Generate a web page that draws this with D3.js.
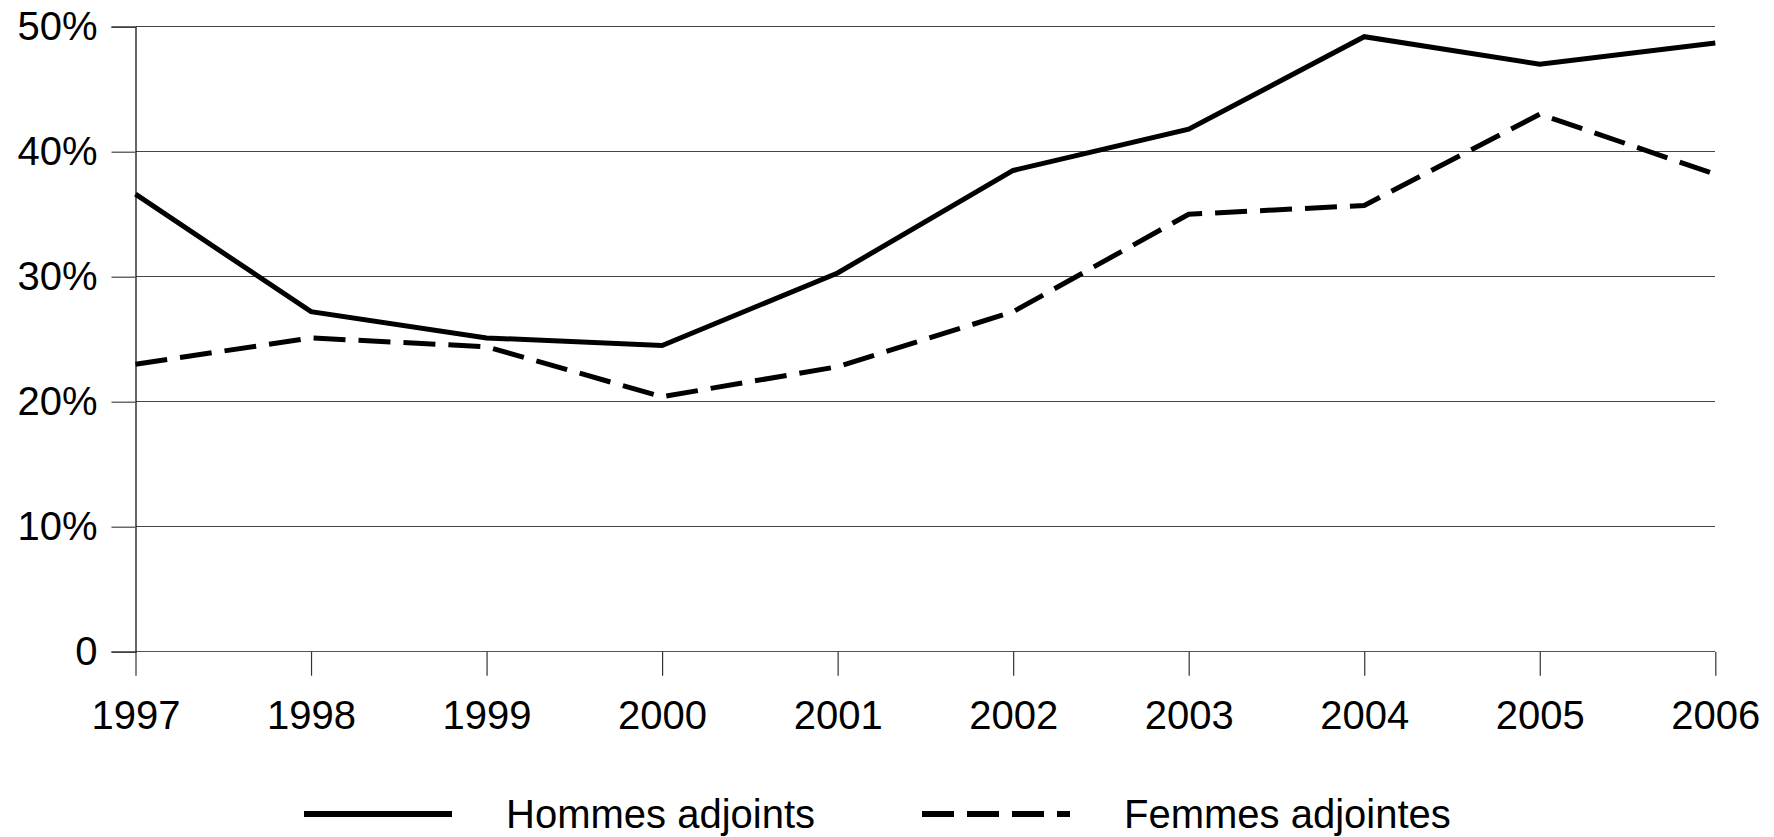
<!DOCTYPE html>
<html>
<head>
<meta charset="utf-8">
<script src="https://cdn.jsdelivr.net/npm/d3@7"></script>
<style>
  body { margin: 0; background: #fff; }
  text { font-family: "Liberation Sans", Arial, sans-serif; fill: #000; }
</style>
</head>
<body>
<div id="wrapper"></div>
<script>
// data
const years = [1997, 1998, 1999, 2000, 2001, 2002, 2003, 2004, 2005, 2006];
const hommes = [36.6, 27.2, 25.1, 24.5, 30.3, 38.5, 41.8, 49.2, 47.0, 48.7];
const femmes = [23.0, 25.1, 24.4, 20.4, 22.8, 27.2, 35.0, 35.7, 43.0, 38.2];
const yTicks = [0, 10, 20, 30, 40, 50];
const seriesNames = ["Hommes adjoints", "Femmes adjointes"];

const drawLineChart = () => {
    let dimensions = {
        width: 1774,
        height: 837,
        margin: { top: 26.7, right: 58.7, bottom: 185.3, left: 135.5 }
    };
    dimensions.boundedWidth = dimensions.width - dimensions.margin.left - dimensions.margin.right;
    dimensions.boundedHeight = dimensions.height - dimensions.margin.top - dimensions.margin.bottom;

    const svg = d3.select("#wrapper")
        .append("svg")
        .attr("width", dimensions.width)
        .attr("height", dimensions.height);

    const bounds = svg.append("g")
        .attr("transform", `translate(${dimensions.margin.left},${dimensions.margin.top})`);

    // scales
    const xScale = d3.scaleLinear()
        .domain(d3.extent(years))
        .range([0, dimensions.boundedWidth]);

    const yScale = d3.scaleLinear()
        .domain([0, 50])
        .range([dimensions.boundedHeight, 0]);

    // gridlines
    bounds.append("g")
        .selectAll("line")
        .data(yTicks)
        .enter()
        .append("line")
        .attr("x1", 0)
        .attr("x2", dimensions.boundedWidth)
        .attr("y1", d => yScale(d))
        .attr("y2", d => yScale(d))
        .attr("stroke", d => d === 0 ? "#555" : "#444")
        .attr("stroke-width", 1.2)
        .attr("shape-rendering", "crispEdges");

    // y axis
    const yAxis = d3.axisLeft(yScale)
        .tickValues(yTicks)
        .tickSize(24)
        .tickPadding(14)
        .tickFormat(d => d === 0 ? "0" : d + "%");

    const yAxisG = bounds.append("g").call(yAxis);
    yAxisG.select(".domain").attr("stroke", "#000").attr("stroke-width", 1.2);
    yAxisG.selectAll(".tick line").attr("stroke", "#444").attr("stroke-width", 1.2);
    yAxisG.selectAll("text")
        .style("font-size", "40px")
        .style("font-family", "'Liberation Sans', Arial, sans-serif")
        .attr("fill", "#000");

    // x axis
    const xAxis = d3.axisBottom(xScale)
        .tickValues(years)
        .tickSize(24)
        .tickPadding(25)
        .tickFormat(d3.format("d"));

    const xAxisG = bounds.append("g")
        .attr("transform", `translate(0,${dimensions.boundedHeight})`)
        .call(xAxis);
    xAxisG.select(".domain").remove();
    xAxisG.selectAll(".tick line").attr("stroke", "#333").attr("stroke-width", 1.2);
    xAxisG.selectAll("text")
        .style("font-size", "40px")
        .style("font-family", "'Liberation Sans', Arial, sans-serif")
        .attr("fill", "#000");

    // lines
    const lineGenerator = d3.line()
        .x((d, i) => xScale(years[i]))
        .y(d => yScale(d));

    bounds.append("path")
        .datum(hommes)
        .attr("d", lineGenerator)
        .attr("fill", "none")
        .attr("stroke", "#000")
        .attr("stroke-width", 5)
        .attr("stroke-linejoin", "miter");

    bounds.append("path")
        .datum(femmes)
        .attr("d", lineGenerator)
        .attr("fill", "none")
        .attr("stroke", "#000")
        .attr("stroke-width", 5)
        .attr("stroke-dasharray", "32,13");

    // legend
    const legend = svg.append("g").attr("transform", "translate(0,814)");
    const legendItems = [
        { name: seriesNames[0], x: 304, dash: null },
        { name: seriesNames[1], x: 922, dash: "32,13" }
    ];
    legendItems.forEach(item => {
        legend.append("line")
            .attr("x1", item.x)
            .attr("x2", item.x + 148)
            .attr("y1", 0)
            .attr("y2", 0)
            .attr("stroke", "#000")
            .attr("stroke-width", 6)
            .attr("stroke-dasharray", item.dash);
        legend.append("text")
            .attr("x", item.x + 202)
            .attr("y", 14)
            .style("font-size", "40px")
            .text(item.name);
    });
};

drawLineChart();
</script>
</body>
</html>
